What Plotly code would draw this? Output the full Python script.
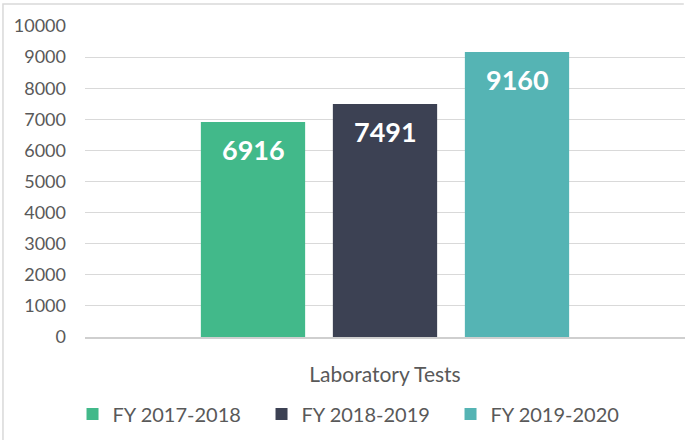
import plotly.graph_objects as go

categories = ["Laboratory Tests"]
series_names = ["FY 2017-2018", "FY 2018-2019", "FY 2019-2020"]
series_values = [[6916], [7491], [9160]]
colors = ["#42B98A", "#3C4153", "#55B4B4"]
y_ticks = [0, 1000, 2000, 3000, 4000, 5000, 6000, 7000, 8000, 9000, 10000]
y_tick_labels = [str(v) for v in y_ticks]

FONT = "Lato, 'Open Sans', sans-serif"
W, H = 694, 440
ML, MR, MT, MB = 85, 9, 26, 103
BARGAP, GROUPGAP = 0.34, 0.21

fig = go.Figure()
for name, vals, col in zip(series_names, series_values, colors):
    fig.add_trace(go.Bar(
        x=categories, y=vals, name=name,
        marker=dict(color=col, line=dict(width=0)),
        cliponaxis=False,
    ))

# value labels inside bar tops
plot_w = W - ML - MR
slot = plot_w * (1 - BARGAP) / len(series_names)
for i, vals in enumerate(series_values):
    for cat, v in zip(categories, vals):
        fig.add_annotation(
            x=cat, y=v, xref="x", yref="y", text=str(v), showarrow=False,
            xshift=(i - (len(series_names) - 1) / 2) * slot,
            yanchor="top", yshift=-9,
            font=dict(family=FONT, size=27, color="white", weight="bold"),
        )

fig.update_layout(
    width=W, height=H,
    margin=dict(l=ML, r=MR, t=MT, b=MB),
    paper_bgcolor="white", plot_bgcolor="white",
    barmode="group", bargap=BARGAP, bargroupgap=GROUPGAP,
    font=dict(family=FONT, size=18, color="#595959"),
    showlegend=True,
    legend=dict(orientation="h", xref="container", x=0.513, xanchor="center",
                yref="container", y=0.059, yanchor="middle",
                font=dict(size=20, color="#595959"), itemwidth=30,
                entrywidth=144, traceorder="normal"),
    xaxis=dict(showgrid=False, showline=True, linecolor="#cfcfcf", linewidth=1.5,
               ticks="", ticklabelstandoff=18, tickfont=dict(size=21, color="#595959")),
    yaxis=dict(range=[0, 10000], tickvals=y_ticks, ticktext=y_tick_labels,
               showgrid=True, gridcolor="#d9d9d9",
               gridwidth=1, zeroline=False, showline=False, ticks="",
               ticklabelstandoff=18, tickfont=dict(size=18, color="#595959")),
)

# chart border (outer frame, partially visible)
fig.add_shape(type="path", xref="paper", yref="paper",
              path="M -0.1367,-0.34 L -0.1367,1.0707 L 0.998,1.0707",
              line=dict(color="#d9d9d9", width=1.5))

fig.write_html("out.html", config={"displayModeBar": False},
               post_script="document.body.style.margin='0';")
